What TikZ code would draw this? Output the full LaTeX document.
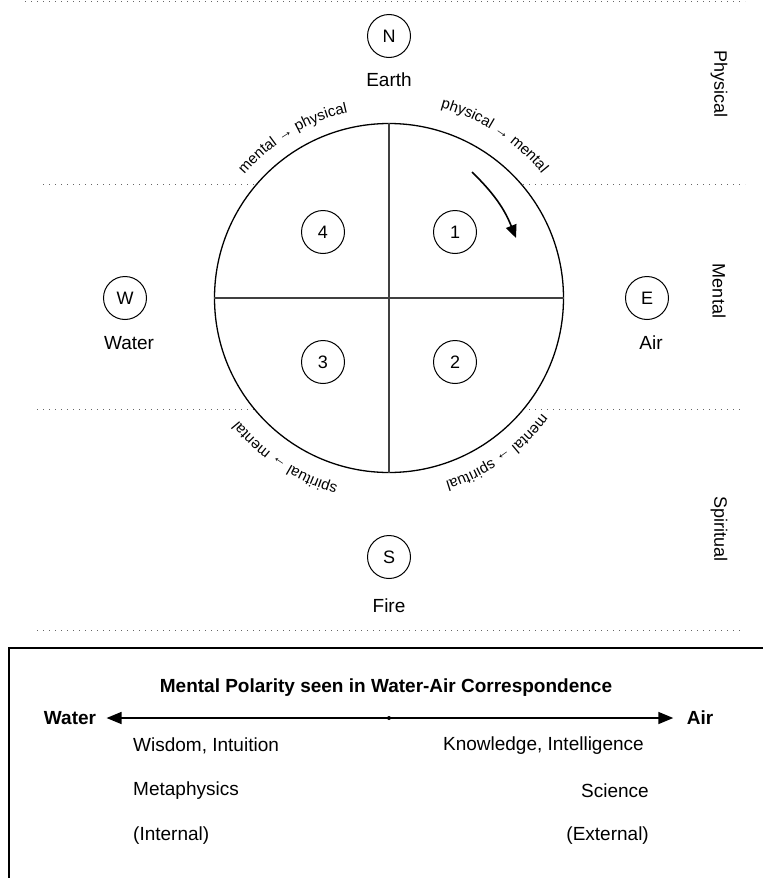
\documentclass[tikz,border=0pt]{standalone}
\usepackage{fontspec}
\setmainfont{Liberation Sans}
\usetikzlibrary{arrows.meta,decorations.text,positioning}
\tikzset{>=Stealth}
\tikzset{
  band/.style={black!60, line width=1pt, dash pattern=on 1.2pt off 4.8pt},
  ring/.style={draw, circle, minimum size=43pt, inner sep=0pt, line width=1pt, font=\fontsize{18}{21}\selectfont},
  lbl/.style={font=\fontsize{19}{22}\selectfont},
  side/.style={font=\fontsize{18}{21}\selectfont, rotate=-90},
  flow/.style={decorate, decoration={text along path, text align=center}},
  cross/.style={black!75, line width=1.2pt},
  pole/.style={font=\bfseries\fontsize{19}{22}\selectfont},
}

\begin{document}
\begin{tikzpicture}[x=1pt,y=1pt]
    \useasboundingbox (0,0) rectangle (763,-878);
    % planes
    \draw[band] (25,-1)--(745,-1);
    \draw[band] (43,-184)--(745,-184);
    \draw[band] (37,-409)--(740,-409);
    \draw[band] (37,-630)--(740,-630);

    \node[circle, draw, fill=white, line width=1.3pt, minimum size=349pt, inner sep=0pt] (wheel) at (389,-298) {};
    \draw[cross] (wheel.north)--(wheel.south);
    \draw[cross] (wheel.west)--(wheel.east);

    \node[ring] (q1) at (455,-232) {1};
    \node[ring] (q2) at (455,-362) {2};
    \node[ring] (q3) at (323,-362) {3};
    \node[ring] (q4) at (323,-232) {4};

    % compass
    \node[ring] (north) at (389,-36) {N};
    \node[lbl] (earth) at (389,-80) {Earth};
    \node[ring] (west) at (125,-298) {W};
    \node[lbl] (water) at (129,-343) {Water};
    \node[ring] (east) at (647,-298) {E};
    \node[lbl] (airlbl) at (651,-343) {Air};
    \node[ring] (south) at (389,-557) {S};
    \node[lbl] (fire) at (389,-606) {Fire};

    \node[side] (physical) at (719,-84) {Physical};
    \node[side] (mental) at (719,-291) {Mental};
    \node[side] (spiritual) at (719,-529) {Spiritual};

    % flow round the wheel
    \path[flow, decoration={text={|\fontsize{15}{17}\selectfont|mental → physical}}]
        ([shift={(151:190)}]wheel.center) arc[start angle=151, end angle=91, radius=190];
    \path[flow, decoration={text={|\fontsize{15}{17}\selectfont|physical → mental}}]
        ([shift={(87:197)}]wheel.center) arc[start angle=87, end angle=27, radius=197];
    \path[flow, decoration={text={|\fontsize{15}{17}\selectfont|mental → spiritual}}]
        ([shift={(-25:192)}]wheel.center) arc[start angle=-25, end angle=-85, radius=192];
    \path[flow, decoration={text={|\fontsize{15}{17}\selectfont|spiritual → mental}}]
        ([shift={(-93:194)}]wheel.center) arc[start angle=-93, end angle=-153, radius=194];

    \coordinate (turnA) at (472,-172);
    \coordinate (turnB) at (516,-238);
    \draw[line width=1.6pt, -{Triangle[length=13pt,width=11pt]}] (turnA) to[bend left=12] (turnB);

    % polarity box
    \draw[line width=1.5pt] (9,-878)--(9,-648)--(763,-648);
    \node[pole] (title) at (386,-688) {Mental Polarity seen in Water-Air Correspondence};
    \node[pole] (wpole) at (70,-718) {Water};
    \node[pole] (apole) at (700,-718) {Air};
    \coordinate (centre) at (389,-718);
    \draw[line width=1.5pt, {Triangle[length=15pt,width=12pt]}-{Triangle[length=15pt,width=12pt]},
        shorten <=7pt, shorten >=10pt] (wpole)--(apole);
    \fill (centre) circle (2pt);

    \node[lbl, anchor=west, inner sep=0pt] (wisdom) at (133,-746) {Wisdom, Intuition};
    \node[lbl, anchor=west, inner sep=0pt] (meta) at (133,-791) {Metaphysics};
    \node[lbl, anchor=west, inner sep=0pt] (internal) at (133,-836) {(Internal)};
    \node[lbl, anchor=east, inner sep=0pt] (knowledge) at (644,-746) {Knowledge, Intelligence};
    \node[lbl, anchor=east, inner sep=0pt] (science) at (649,-791) {Science};
    \node[lbl, anchor=east, inner sep=0pt] (external) at (649,-836) {(External)};
\end{tikzpicture}
\end{document}
